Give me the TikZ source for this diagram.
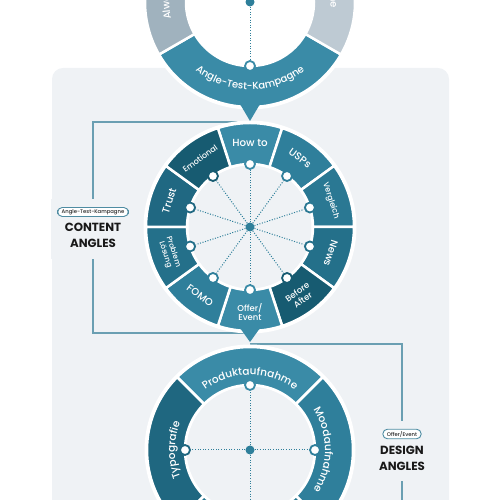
\documentclass[tikz,border=0pt]{standalone}
\usepackage{fontspec}
\setmainfont{Poppins}
\newfontfamily\pmed{Poppins Medium}
\usetikzlibrary{calc,decorations.text}
\definecolor{panel}{HTML}{EFF2F5}
\definecolor{cA}{HTML}{3A8BA7}
\definecolor{cB}{HTML}{2F7F9B}
\definecolor{cC}{HTML}{2A7893}
\definecolor{cD}{HTML}{24708A}
\definecolor{cE}{HTML}{175B71}
\definecolor{cF}{HTML}{206882}
\definecolor{cG}{HTML}{1F6780}
\definecolor{grayL}{HTML}{A0B2BE}
\definecolor{grayR}{HTML}{BECAD3}
\definecolor{spk}{HTML}{2E7F9A}
\definecolor{lineC}{HTML}{6A9FB2}
\definecolor{pillC}{HTML}{4E8CA2}
\newcommand\ringseg[6]{% center, a1, a2, rin, rout, color
  \fill[#6, draw=white, line width=2.5pt] ($(#1)+(#2:#5)$) arc[start angle=#2, end angle=#3, radius=#5] -- ($(#1)+(#3:#4)$) arc[start angle=#3, end angle=#2, radius=#4] -- cycle;}
\begin{document}
\begin{tikzpicture}[x=1pt,y=1pt,
  bracket/.style={draw=lineC, line width=1.5pt},
  spoke/.style={draw=spk, line width=1pt, dash pattern=on 1pt off 1.6pt},
  hub/.style={circle, fill=white, line width=1.8pt, minimum size=10pt, inner sep=0pt},
  cdot/.style={circle, fill=spk, minimum size=9pt, inner sep=0pt},
  mlab/.style={text=white, inner sep=0pt, align=center},
  pill/.style={draw=pillC, line width=0.9pt, rounded corners=4.5pt, fill=white, text=black!85, font=\pmed\fontsize{5.3}{6}\selectfont, inner xsep=4pt, inner ysep=1.8pt},
  big/.style={font=\bfseries\fontsize{11.8}{16}\selectfont, text=black!90, align=center, inner sep=0pt},
  cover/.style={fill=panel, inner sep=0pt},
]
\useasboundingbox (0,0) rectangle (500,500);
\clip (0,0) rectangle (500,500);
\fill[panel, rounded corners=11pt] (52,-30) rectangle (449,432);

\coordinate (T) at (250,498);
\coordinate (M) at (250,273);
\coordinate (B) at (250,50);

% brackets
\coordinate (lt) at (93,378); \coordinate (lb) at (93,167);
\coordinate (mt) at (250,378); \coordinate (mb) at (250,167);
\coordinate (bt) at (250,156); \coordinate (rt) at (402,156); \coordinate (rb) at (402,-5);
\draw[bracket] (mt) -- (lt) -- (lb) -- (mb);
\draw[bracket] (bt) -- (rt) -- (rb);

% labels
\node[cover, minimum width=84pt, minimum height=60pt] (clab) at (93,271) {};
\node[pill] (cpill) at (93,288) {Angle-Test-Kampagne};
\node[big] (ctxt) at (93,265) {CONTENT\\ANGLES};
\node[cover, minimum width=64pt, minimum height=60pt] (dlab) at (402,49) {};
\node[pill] (dpill) at (402,66) {Offer/Event};
\node[big] (dtxt) at (402,42) {DESIGN\\ANGLES};

% white halos
\fill[white, even odd rule] (T) circle[radius=107.5] (T) circle[radius=62.5];
\fill[white, even odd rule] (M) circle[radius=106.5] (M) circle[radius=61.5];
\fill[white, even odd rule] (B) circle[radius=105.5] (B) circle[radius=63.5];

% top ring
\ringseg{T}{210}{330}{64}{105}{cA}
\ringseg{T}{90}{210}{64}{105}{grayL}
\ringseg{T}{-30}{90}{64}{105}{grayR}
\fill[cA] (240,396) -- (260,396) -- (250,379) -- cycle;

% middle ring
\foreach \a/\c in {90/cA,54/cB,18/cC,-18/cD,-54/cE,-90/cA,-126/cB,-162/cD,162/cF,126/cE}{
  \ringseg{M}{\a-18}{\a+18}{63}{104}{\c}
}
\fill[cA] (240,172) -- (260,172) -- (250,158) -- cycle;

% bottom ring
\ringseg{B}{45}{135}{65}{103}{cA}
\ringseg{B}{-45}{45}{65}{103}{cB}
\ringseg{B}{135}{225}{65}{103}{cG}
\ringseg{B}{225}{315}{65}{103}{cC}

% hubs and centre dots
\node[cdot] (Tc) at (T) {};
\node[hub, draw=cA] (t0) at ($(T)+(270:64)$) {};
\draw[spoke] (Tc) -- (t0);

\node[cdot] (Mc) at (M) {};
\foreach \a/\c [count=\i] in {90/cA,54/cB,18/cC,-18/cD,-54/cE,-90/cA,-126/cB,-162/cD,162/cF,126/cE}{
  \node[hub, draw=\c] (m\i) at ($(M)+(\a:63)$) {};
  \draw[spoke] (Mc) -- (m\i);
}

\node[cdot] (Bc) at (B) {};
\foreach \a/\c [count=\i] in {90/cA,0/cB,180/cG,270/cC}{
  \node[hub, draw=\c] (b\i) at ($(B)+(\a:65)$) {};
  \draw[spoke] (Bc) -- (b\i);
}

% top ring texts
\path[decorate, decoration={text along path, text align=center, text={|\pmed\fontsize{10}{12}\selectfont\color{white}|Angle-Test-Kampagne}}]
  ($(T)+(210:87.5)$) arc[start angle=210, end angle=330, radius=87.5];
\path[decorate, decoration={text along path, text align=center, text={|\pmed\fontsize{10}{12}\selectfont\color{white}|Always-On-Kampagne}}]
  ($(T)+(210:80.5)$) arc[start angle=210, end angle=90, radius=80.5];
\path[decorate, decoration={text along path, text align=center, text={|\pmed\fontsize{10}{12}\selectfont\color{white}|Evergreen-Kampagne}}]
  ($(T)+(96:80.5)$) arc[start angle=96, end angle=-24, radius=80.5];

% middle ring texts
\node[mlab, font=\pmed\fontsize{10.3}{11}\selectfont] (l1) at ($(M)+(90:84)$) {How to};
\node[mlab, font=\pmed\fontsize{10.3}{11}\selectfont, rotate=-36] (l2) at ($(M)+(54:85)$) {USPs};
\node[mlab, font=\pmed\fontsize{8}{9}\selectfont, rotate=-72] (l3) at ($(M)+(18:85)$) {Vergleich};
\node[mlab, font=\pmed\fontsize{10}{11}\selectfont, rotate=-108] (l4) at ($(M)+(-18:85)$) {News};
\node[mlab, font=\pmed\fontsize{8.5}{9.5}\selectfont, rotate=36] (l5) at ($(M)+(-54:85)$) {Before\\After};
\node[mlab, font=\pmed\fontsize{8.5}{9.5}\selectfont] (l6) at ($(M)+(-90:85)$) {Offer/\\Event};
\node[mlab, font=\pmed\fontsize{10}{11}\selectfont, rotate=-36] (l7) at ($(M)+(-126:85)$) {FOMO};
\node[mlab, font=\pmed\fontsize{7.5}{8.5}\selectfont, rotate=-72] (l8) at ($(M)+(-162:85)$) {Problem\\Lösung};
\node[mlab, font=\pmed\fontsize{10.3}{11}\selectfont, rotate=72] (l9) at ($(M)+(162:85)$) {Trust};
\node[mlab, font=\pmed\fontsize{8}{9}\selectfont, rotate=36] (l10) at ($(M)+(126:85)$) {Emotional};

% bottom ring texts
\path[decorate, decoration={text along path, text align=center, text={|\pmed\fontsize{10.5}{12}\selectfont\color{white}|Produktaufnahme}}]
  ($(B)+(135:75)$) arc[start angle=135, end angle=45, radius=75];
\path[decorate, decoration={text along path, text align=center, text={|\pmed\fontsize{10.5}{12}\selectfont\color{white}|Moodaufnahme}}]
  ($(B)+(45:75)$) arc[start angle=45, end angle=-45, radius=75];
\path[decorate, decoration={text along path, text align=center, text={|\pmed\fontsize{10.5}{12}\selectfont\color{white}|Typografie}}]
  ($(B)+(225:75)$) arc[start angle=225, end angle=135, radius=75];
\end{tikzpicture}
\end{document}
